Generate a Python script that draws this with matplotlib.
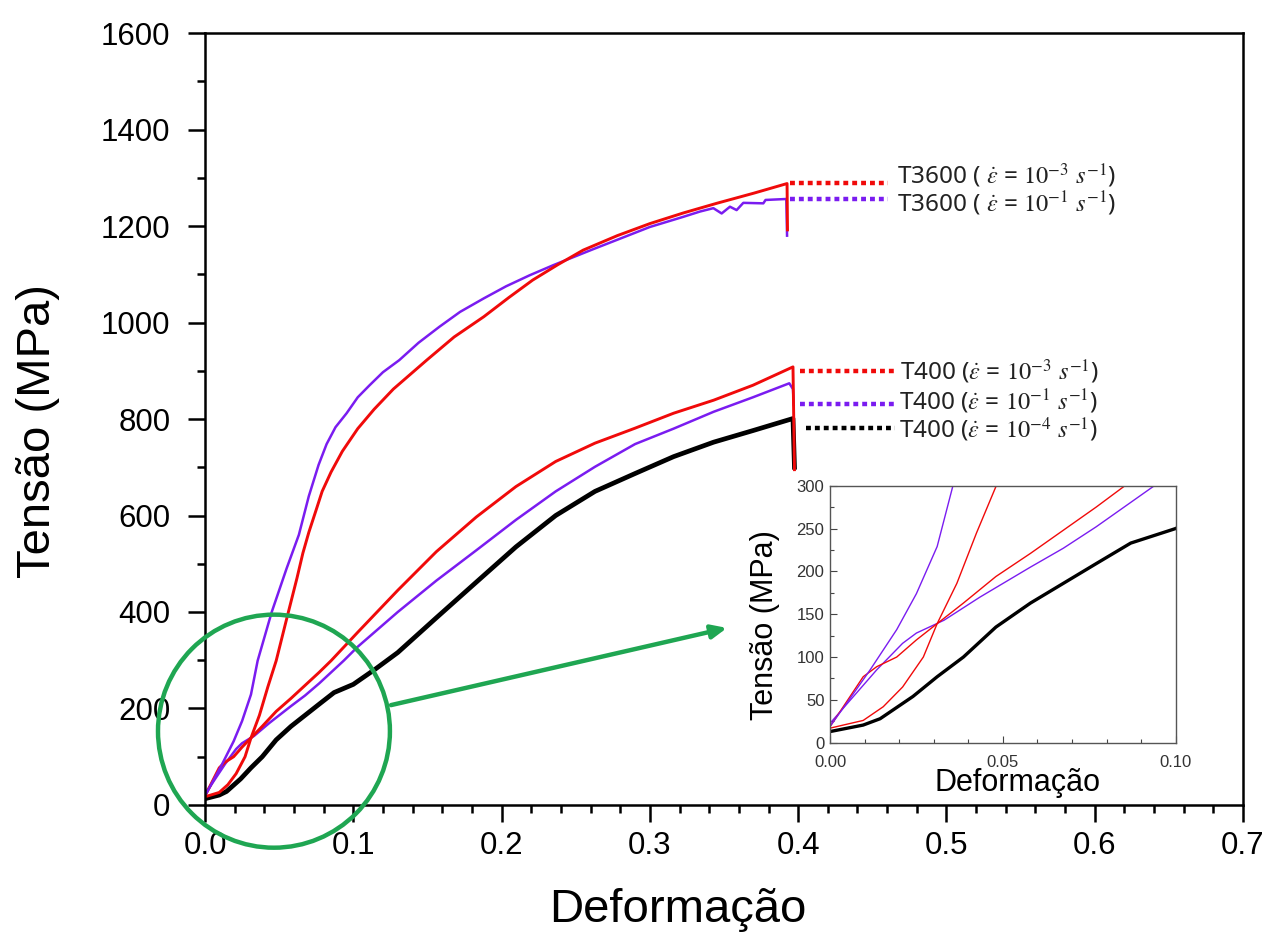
import numpy as np
import matplotlib

matplotlib.use('Agg')
import matplotlib.pyplot as plt
from matplotlib.patches import Ellipse

plt.rcParams['font.family'] = ['Liberation Sans', 'DejaVu Sans']
plt.rcParams['mathtext.fontset'] = 'stix'

# Stress-strain curves (strain, MPa)
t3600_r3_strain = [0, 0.0096, 0.0154, 0.021, 0.027, 0.031, 0.0367, 0.0424, 0.048, 0.055, 0.062, 0.066,
                   0.070, 0.075, 0.079, 0.085, 0.0926, 0.103, 0.114, 0.127, 0.1405, 0.1495, 0.168, 0.188,
                   0.205, 0.221, 0.238, 0.255, 0.278, 0.300, 0.3225, 0.345, 0.370, 0.3925, 0.3928]
t3600_r3_stress = [17, 26, 42, 65, 100, 139, 186, 245, 299, 385, 470, 522,
                   565, 612, 650, 690, 733, 780, 820, 862, 898, 922, 970, 1012,
                   1052, 1088, 1120, 1150, 1180, 1205, 1227, 1247, 1268, 1288, 1192]

t3600_r1_strain = [0, 0.0048, 0.0116, 0.0193, 0.025, 0.031, 0.0355, 0.045, 0.055, 0.0633, 0.070, 0.0766,
                   0.082, 0.088, 0.0955, 0.103, 0.111, 0.120, 0.131, 0.144, 0.158, 0.172, 0.188, 0.203,
                   0.219, 0.235, 0.2618, 0.2776, 0.300, 0.3225, 0.3338, 0.3428, 0.3484, 0.354, 0.3585,
                   0.363, 0.3765, 0.378, 0.392, 0.3925]
t3600_r1_stress = [19, 46, 85, 132, 174, 229, 299, 400, 490, 560, 640, 705,
                   748, 783, 812, 845, 870, 897, 922, 958, 991, 1022, 1050, 1075,
                   1098, 1119, 1152, 1171, 1198, 1219, 1230, 1237, 1226, 1240, 1233,
                   1248, 1247, 1254, 1256, 1180]

t400_r3_strain = [0, 0.0096, 0.0135, 0.0193, 0.025, 0.031, 0.0386, 0.048, 0.058, 0.0675, 0.077, 0.085,
                  0.103, 0.130, 0.156, 0.183, 0.2097, 0.2365, 0.263, 0.290, 0.316, 0.343, 0.3695,
                  0.3965, 0.3975]
t400_r3_stress = [18.7, 77, 88.7, 100, 120, 139, 163, 194, 221, 248, 275, 299,
                  358, 445, 525, 597, 660, 712, 750, 781, 812, 839, 870,
                  908, 695]

t400_r1_strain = [0, 0.0135, 0.021, 0.025, 0.033, 0.0434, 0.058, 0.0675, 0.077, 0.0935, 0.103, 0.130,
                  0.156, 0.183, 0.2097, 0.2365, 0.263, 0.290, 0.316, 0.343, 0.3695, 0.394, 0.3965, 0.397]
t400_r1_stress = [22.6, 85, 116, 128, 143, 170, 205, 227, 252, 299, 328, 400,
                  465, 528, 591, 650, 701, 748, 780, 815, 845, 874, 862, 830]

t400_r4_strain = [0, 0.0096, 0.0145, 0.024, 0.031, 0.0386, 0.048, 0.058, 0.0675, 0.077, 0.087, 0.100,
                  0.115, 0.130, 0.156, 0.183, 0.2097, 0.2365, 0.263, 0.290, 0.316, 0.343, 0.3695,
                  0.3965, 0.3975]
t400_r4_stress = [13, 20.6, 28, 54, 77, 100, 135, 163, 186, 209, 233, 250,
                  282, 316, 388, 462, 535, 600, 650, 687, 722, 752, 776,
                  801, 700]

# Dotted leader lines to the labels: (x start, x end, stress level)
leader_x0 = [0.3945, 0.3945, 0.401, 0.401, 0.405]
leader_x1 = [0.4605, 0.4605, 0.465, 0.465, 0.465]
leader_y = [1290, 1255, 899, 832, 781]
label_x = [0.4666, 0.4666, 0.4686, 0.4680, 0.4680]
label_y = [1287, 1230, 881, 819, 761]
labels = [r'T3600 ( $\dot{\varepsilon}$ = $10^{-3}$ $s^{-1}$)',
          r'T3600 ( $\dot{\varepsilon}$ = $10^{-1}$ $s^{-1}$)',
          r'T400 ($\dot{\varepsilon}$ = $10^{-3}$ $s^{-1}$)',
          r'T400 ($\dot{\varepsilon}$ = $10^{-1}$ $s^{-1}$)',
          r'T400 ($\dot{\varepsilon}$ = $10^{-4}$ $s^{-1}$)']

RED = '#f00a0a'
PURPLE = '#7a1cf0'
BLACK = '#000000'
GREEN = '#1fa652'
leader_colors = [RED, PURPLE, RED, PURPLE, BLACK]

series = [
    (t400_r4_strain, t400_r4_stress, BLACK, 3.4, 2.4),
    (t400_r1_strain, t400_r1_stress, PURPLE, 1.8, 1.0),
    (t400_r3_strain, t400_r3_stress, RED, 2.1, 1.0),
    (t3600_r1_strain, t3600_r1_stress, PURPLE, 1.8, 1.0),
    (t3600_r3_strain, t3600_r3_stress, RED, 2.1, 1.0),
]

fig = plt.figure(figsize=(12.67, 9.38), dpi=100)
ax = fig.add_axes([0.1618, 0.1418, 0.8193, 0.823])

for xs, ys, c, lw, _ in series:
    ax.plot(xs, ys, color=c, linewidth=lw, solid_joinstyle='round')

for x0, x1, y, c in zip(leader_x0, leader_x1, leader_y, leader_colors):
    ax.plot([x0, x1], [y, y], color=c, linewidth=3.2, dashes=(1.1, 0.9), solid_capstyle='butt')
for x, y, s in zip(label_x, label_y, labels):
    ax.text(x, y, s, fontsize=17.5, family=['Noto Sans', 'DejaVu Sans'], color='#222222',
            ha='left', va='baseline')

ax.set_xlim(0, 0.7)
ax.set_ylim(0, 1600)
ax.set_xticks(np.arange(0, 0.71, 0.1))
ax.set_xticks(np.arange(0, 0.7, 0.02), minor=True)
ax.set_yticks(np.arange(0, 1601, 200))
ax.set_yticks(np.arange(100, 1600, 200), minor=True)
ax.xaxis.set_major_formatter(matplotlib.ticker.FormatStrFormatter('%.1f'))
ax.tick_params(which='major', direction='out', length=12, width=1.8, labelsize=22.5)
ax.tick_params(which='minor', direction='out', length=6, width=1.8)
ax.tick_params(axis='y', which='major', pad=13)
ax.tick_params(axis='x', which='major', pad=7)
for sp in ax.spines.values():
    sp.set_linewidth(1.8)

ax.set_xlabel('Deformação', fontsize=34)
ax.set_ylabel('Tensão (MPa)', fontsize=34)
ax.xaxis.set_label_coords(0.4557, -0.108)
ax.yaxis.set_label_coords(-0.14, 0.4845)

# green zoom circle and arrow
circle = Ellipse((0.0465, 153), width=0.1564, height=483, fill=False, edgecolor=GREEN,
                 linewidth=3.2, clip_on=False, zorder=5)
ax.add_patch(circle)
ax.annotate('', xy=(0.352, 367), xytext=(0.1254, 207),
            arrowprops=dict(arrowstyle='-|>,head_length=0.9,head_width=0.4', color=GREEN,
                            linewidth=3.2, shrinkA=0, shrinkB=0), zorder=5)

# inset
axi = fig.add_axes([0.6551, 0.2082, 0.2728, 0.274])
for xs, ys, c, _, lw in series:
    axi.plot(xs, ys, color=c, linewidth=lw)
axi.set_xlim(0, 0.1)
axi.set_ylim(0, 300)
axi.set_xticks([0, 0.05, 0.10])
axi.set_xticks(np.arange(0, 0.1, 0.01), minor=True)
axi.set_yticks(np.arange(0, 301, 50))
axi.set_yticks(np.arange(25, 300, 50), minor=True)
axi.xaxis.set_major_formatter(matplotlib.ticker.FormatStrFormatter('%.2f'))
axi.tick_params(which='major', direction='in', length=5, width=0.8, labelsize=12,
                labelcolor='#333333', color='#444444')
axi.tick_params(axis='y', which='major', pad=4)
axi.tick_params(axis='x', which='major', pad=9)
axi.tick_params(which='minor', direction='in', length=3, width=0.8, color='#444444')
for sp in axi.spines.values():
    sp.set_linewidth(1.0)
    sp.set_color('#555555')
axi.set_xlabel('Deformação', fontsize=22)
axi.set_ylabel('Tensão (MPa)', fontsize=22)
axi.xaxis.set_label_coords(0.541, -0.10)
axi.yaxis.set_label_coords(-0.145, 0.458)

fig.savefig('out.png', dpi=100)
